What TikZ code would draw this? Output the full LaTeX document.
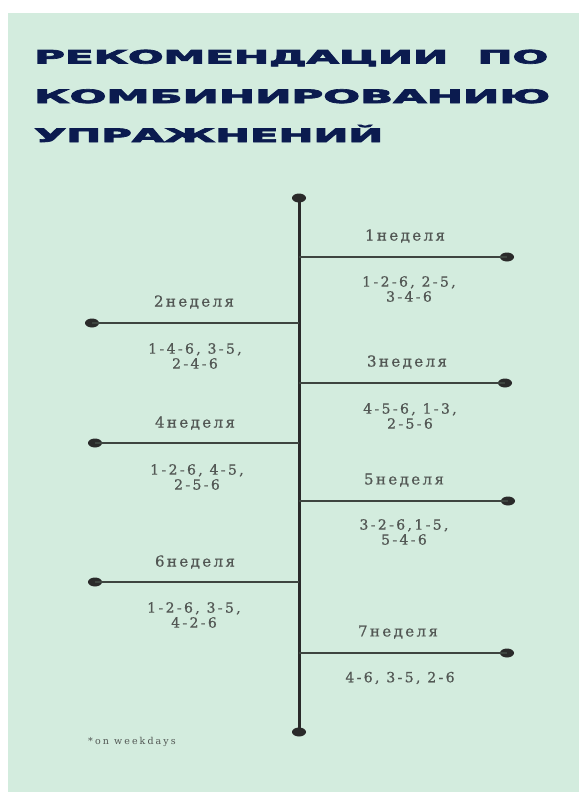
\documentclass[tikz,border=0pt]{standalone}
\usepackage{fontspec}
\usepackage{graphicx}
\newfontfamily\titlefont{DejaVu Sans Bold}[FakeBold=3.5]
\newfontfamily\weekfont{DejaVu Serif}[LetterSpace=16,FakeBold=0.8]
\newfontfamily\combofont{DejaVu Serif}[LetterSpace=17,FakeBold=0.8]
\newfontfamily\notefont{DejaVu Serif}[LetterSpace=22]
\definecolor{panel}{HTML}{D3ECDE}
\definecolor{navy}{HTML}{0B1B4F}
\definecolor{axis}{HTML}{2A2A2A}
\definecolor{branch}{HTML}{3E4540}
\definecolor{txt}{HTML}{525754}
\tikzset{
  titleline/.style={anchor=base west, inner sep=0pt, text=navy},
  endpt/.style={ellipse, fill=axis, minimum width=14pt, minimum height=9pt, inner sep=0pt},
  weeklabel/.style={text=txt, font=\weekfont\fontsize{15}{15}\selectfont, inner sep=0pt},
  combo/.style={text=txt, font=\combofont\fontsize{14}{15}\selectfont, align=center, inner sep=0pt},
  axisline/.style={draw=axis, line width=3pt},
  branchline/.style={draw=branch, line width=2.2pt}
}
\usetikzlibrary{shapes.geometric}
\begin{document}
\begin{tikzpicture}[x=1pt,y=-1pt]
\useasboundingbox (0,0) rectangle (579,792);
\fill[white] (0,0) rectangle (579,792);
\fill[panel] (8,13) rectangle (579,792);
% title
\node[titleline] (t1) at (34,63.5) {\resizebox{514pt}{\height}{\titlefont\fontsize{18.5}{20}\selectfont РЕКОМЕНДАЦИИ\ \ ПО}};
\node[titleline] (t2) at (34,103) {\resizebox{516pt}{\height}{\titlefont\fontsize{18.5}{20}\selectfont КОМБИНИРОВАНИЮ}};
\node[titleline] (t3) at (34,142) {\resizebox{349pt}{\height}{\titlefont\fontsize{18.5}{20}\selectfont УПРАЖНЕНИЙ}};
% axis
\node[endpt] (top) at (299,198) {};
\node[endpt] (bot) at (299,732) {};
\draw[axisline] (top.center) -- (bot.center);
% branch coordinates on axis
\coordinate (a1) at (299,257);
\coordinate (a2) at (299,323);
\coordinate (a3) at (299,383);
\coordinate (a4) at (299,443);
\coordinate (a5) at (299,501);
\coordinate (a6) at (299,582);
\coordinate (a7) at (299,653);
\node[endpt] (e1) at (507,257) {};
\node[endpt] (e2) at (92,323) {};
\node[endpt] (e3) at (505,383) {};
\node[endpt] (e4) at (95,443) {};
\node[endpt] (e5) at (508,501) {};
\node[endpt] (e6) at (95,582) {};
\node[endpt] (e7) at (507,653) {};
\foreach \i in {1,...,7} {\draw[branchline] (a\i) -- (e\i.center);}
% labels
\node[weeklabel] (w1) at (405,236) {1неделя};
\node[combo] (c1) at (409,289) {1-2-6, 2-5,\\3-4-6};
\node[weeklabel] (w2) at (194,302) {2неделя};
\node[combo] (c2) at (195,356) {1-4-6, 3-5,\\2-4-6};
\node[weeklabel] (w3) at (407,362) {3неделя};
\node[combo] (c3) at (410,416) {4-5-6, 1-3,\\2-5-6};
\node[weeklabel] (w4) at (195,423) {4неделя};
\node[combo] (c4) at (197,477) {1-2-6, 4-5,\\2-5-6};
\node[weeklabel] (w5) at (404,480) {5неделя};
\node[combo] (c5) at (404,532) {3-2-6,1-5,\\5-4-6};
\node[weeklabel] (w6) at (195,562) {6неделя};
\node[combo] (c6) at (194,615) {1-2-6, 3-5,\\4-2-6};
\node[weeklabel] (w7) at (398,632) {7неделя};
\node[combo] (c7) at (400,678) {4-6, 3-5, 2-6};
\node[text=txt, font=\notefont\fontsize{9.5}{10}\selectfont, anchor=west, inner sep=0pt] (note) at (88,742) {*on weekdays};
\end{tikzpicture}
\end{document}
